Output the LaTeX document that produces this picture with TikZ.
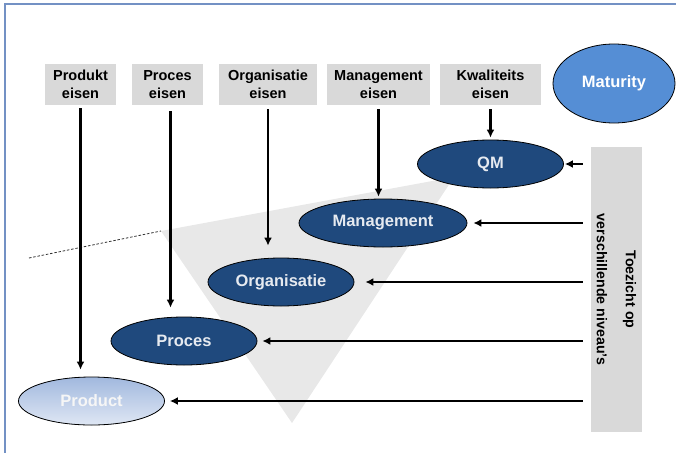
\documentclass[tikz,border=0pt]{standalone}
\usepackage{fontspec}
\setmainfont{Liberation Sans}
\usetikzlibrary{shapes.geometric,arrows.meta}
\definecolor{eisgray}{HTML}{D9D9D9}
\definecolor{lvlblue}{HTML}{1F497D}
\definecolor{lvltext}{HTML}{E6EAF0}
\definecolor{matblue}{HTML}{558ED5}
\definecolor{prodtop}{HTML}{A1B8DE}
\definecolor{prodbot}{HTML}{DFE7F4}
\definecolor{trigray}{HTML}{E8E8E8}
\definecolor{framblue}{HTML}{7391C4}
\tikzset{
  eis/.style={fill=eisgray, minimum height=41pt, inner sep=0pt, align=center,
    font=\bfseries\fontsize{14.5}{17.5}\selectfont},
  lvl/.style={ellipse, draw=black, line width=0.8pt, fill=lvlblue, text=lvltext,
    minimum width=146pt, minimum height=48pt, inner sep=0pt,
    font=\bfseries\fontsize{16.5}{20}\selectfont},
  eisarrow/.style={-{Latex[length=8pt,width=8pt]}, line width=2.7pt},
}
\begin{document}
\begin{tikzpicture}[x=1pt,y=-1pt]
    \useasboundingbox (0,0) rectangle (676,452);
    \draw [framblue,line width=1.6pt] (5,460) -- (5,4) -- (690,4);
    % grey wedge behind the levels
    \coordinate (tl) at (161,231);
    \coordinate (tr) at (454,177);
    \coordinate (tb) at (292,423);
    \fill [trigray] (tl) -- (tr) -- (tb) -- cycle;
    \coordinate (dl) at (29,258);
    \draw [black!80,line width=0.8pt,dash pattern=on 2.5pt off 1.8pt] (dl) -- (tl);
    % requirements
    \node (pe) [eis,minimum width=71pt]  at (80.5,84.5)  {Produkt\\eisen};
    \node (re) [eis,minimum width=71pt]  at (167.5,84.5) {Proces\\eisen};
    \node (oe) [eis,minimum width=98pt]  at (268,84.5)   {Organisatie\\eisen};
    \node (me) [eis,minimum width=103pt] at (378.5,84.5) {Management\\eisen};
    \node (ke) [eis,minimum width=101pt] at (490.5,84.5) {Kwaliteits\\eisen};
    \node (mat) [lvl,fill=matblue,text=white,minimum width=122pt,minimum height=79pt] at (614,83.5) {Maturity};
    % levels
    \node (qm)   [lvl] at (490.5,164) {QM};
    \node (mgmt) [lvl,minimum width=168pt] at (383,223) {Management};
    \node (org)  [lvl] at (281,282) {Organisatie};
    \node (proc) [lvl] at (184,341) {Proces};
    \node (prod) [lvl,top color=prodtop,bottom color=prodbot,text=white!93!gray] at (91.5,401) {Product};
    % supervision
    \node (side) [fill=eisgray,minimum width=51pt,minimum height=285pt,inner sep=0pt] at (616.5,289.5) {};
    \node (sidetext) [rotate=-90,align=center,font=\bfseries\fontsize{14.2}{29}\selectfont] at (side.center) {Toezicht op\\verschillende niveau’s};
    \draw [eisarrow,shorten <=3pt,shorten >=7pt]  (pe.south) -- (pe.south |- prod.north);
    \draw [eisarrow,shorten <=6pt,shorten >=9pt]  ([xshift=3pt]re.south) -- ([xshift=3pt]re.south |- proc.north);
    \draw [eisarrow,shorten <=4pt,shorten >=12pt] (oe.south) -- (oe.south |- org.north);
    \draw [eisarrow,shorten <=4pt,shorten >=2pt]  (me.south) -- (me.south |- mgmt.north);
    \draw [eisarrow,shorten <=4pt,shorten >=2pt]  (ke.south) -- (ke.south |- qm.north);
    \draw [eisarrow,shorten <=8pt,shorten >=1pt]  (qm.east -| side.west) -- (qm.east);
    \draw [eisarrow,shorten <=8pt,shorten >=6pt]  (mgmt.east -| side.west) -- (mgmt.east);
    \draw [eisarrow,shorten <=8pt,shorten >=11pt] (org.east -| side.west) -- (org.east);
    \draw [eisarrow,shorten <=8pt,shorten >=5pt]  (proc.east -| side.west) -- (proc.east);
    \draw [eisarrow,shorten <=8pt,shorten >=5pt]  (prod.east -| side.west) -- (prod.east);
\end{tikzpicture}
\end{document}
